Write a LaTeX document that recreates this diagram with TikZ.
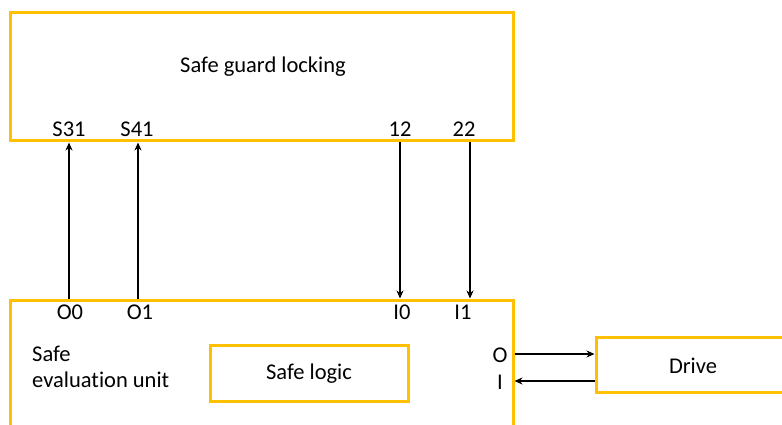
\documentclass[tikz,border=0pt]{standalone}
\usepackage{fontspec}
\setmainfont[Ligatures=NoCommon]{Carlito}
\usetikzlibrary{arrows.meta}
\definecolor{gold}{HTML}{FFC000}
\tikzset{
  box/.style={draw=gold, line width=3pt, fill=white, inner sep=0pt},
  lbl/.style={font=\fontsize{22.5}{26}\selectfont, inner sep=0pt},
  arr/.style={line width=2.4pt, -{Stealth[length=8pt,width=7pt]}}
}
\begin{document}
\begin{tikzpicture}[x=1pt,y=-1pt]
\useasboundingbox (0,0) rectangle (782,425);
\clip (0,0) rectangle (782,425);
% boxes
\node[box, minimum width=503pt, minimum height=128pt] (guard) at (261.5,77) {};
\node[box, minimum width=503pt, minimum height=160pt] (eval) at (261.5,380) {};
\node[box, minimum width=198pt, minimum height=56pt] (logic) at (309,373) {};
\node[box, minimum width=220pt, minimum height=55pt] (drive) at (706,364.5) {};
% texts
\node[lbl] (tguard) at (263,67) {Safe guard locking};
\node[lbl] (tlogic) at (309,374) {Safe logic};
\node[lbl] (tdrive) at (693,366) {Drive};
\node[lbl, align=left, anchor=west] (teval) at (32,367) {Safe\\evaluation unit};
\node[lbl] (s31) at (69,129) {S31};
\node[lbl] (s41) at (137,129) {S41};
\node[lbl] (n12) at (400,129) {12};
\node[lbl] (n22) at (464,129) {22};
\node[lbl] (o0) at (70,312) {O0};
\node[lbl] (o1) at (140,312) {O1};
\node[lbl] (i0) at (402,312) {I0};
\node[lbl] (i1) at (463,312) {I1};
\node[lbl] (oo) at (500,355) {O};
\node[lbl] (ii) at (500,382) {I};
% coordinates for connector columns
\coordinate (c1) at (69,0);
\coordinate (c2) at (138,0);
\coordinate (c3) at (400,0);
\coordinate (c4) at (470,0);
\coordinate (r1) at (0,354);
\coordinate (r2) at (0,381);
% connectors
\draw[arr] (eval.north -| c1) -- (guard.south -| c1);
\draw[arr] (eval.north -| c2) -- (guard.south -| c2);
\draw[arr] (guard.south -| c3) -- (eval.north -| c3);
\draw[arr] (guard.south -| c4) -- (eval.north -| c4);
\draw[arr] (eval.east |- r1) -- (drive.west |- r1);
\draw[arr] (drive.west |- r2) -- (eval.east |- r2);
\end{tikzpicture}
\end{document}
